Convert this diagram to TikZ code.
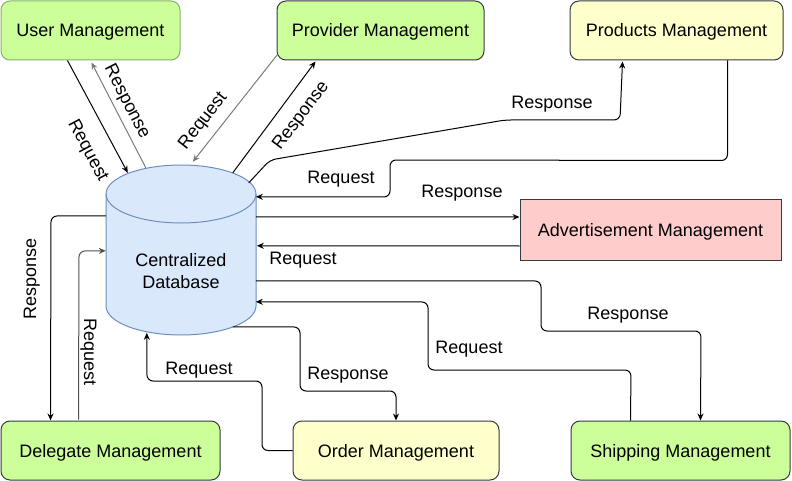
\documentclass[tikz,border=0pt]{standalone}
\usepackage{fontspec}
\setmainfont{Liberation Sans}
\usetikzlibrary{arrows.meta, positioning, calc}
\definecolor{greenFill}{HTML}{CCFF99}
\definecolor{greenLine}{HTML}{82B366}
\definecolor{yellowFill}{HTML}{FFFFCC}
\definecolor{pinkFill}{HTML}{FFCCCC}
\definecolor{boxLine}{HTML}{36393D}
\definecolor{dbFill}{HTML}{DAE8FC}
\definecolor{dbLine}{HTML}{6C8EBF}
\definecolor{softLine}{HTML}{7A7A7A}
\definecolor{midLine}{HTML}{505050}

\begin{document}
\begin{tikzpicture}[x=1pt, y=-1pt, font=\fontsize{18}{22}\selectfont,
  module/.style={draw=boxLine, line width=1pt, rounded corners=9pt, minimum height=59pt, inner sep=0pt, align=center, text height=17pt, text depth=4pt},
  link/.style={-{Stealth[length=7pt, width=6pt]}, line width=1pt, rounded corners=6pt},
  tag/.style={inner sep=0pt, text height=16pt, text depth=4pt}]
            \useasboundingbox (0,0) rectangle (792,481);

            % Management boxes
            \node[module, fill=greenFill, draw=greenLine, minimum width=179pt] (user) at (90.5,30.5) {User Management};
            \node[module, fill=greenFill, minimum width=207pt] (provider) at (380.5,30.5) {Provider Management};
            \node[module, fill=yellowFill, minimum width=213pt] (products) at (676.5,30.5) {Products Management};
            \node[module, fill=pinkFill, sharp corners, minimum width=261pt, minimum height=60pt] (adv) at (650.5,230) {Advertisement Management};
            \node[module, fill=greenFill, minimum width=219pt] (delegate) at (110.5,450.5) {Delegate Management};
            \node[module, fill=yellowFill, minimum width=206pt] (order) at (396,450.5) {Order Management};
            \node[module, fill=greenFill, minimum width=219pt] (shipping) at (680.5,450.5) {Shipping Management};

            % Database cylinder
            \filldraw[fill=dbFill, draw=dbLine, line width=1pt] (106,194) -- (106,306) arc[start angle=180, end angle=360, x radius=75pt, y radius=29pt] -- (256,194) arc[start angle=0, end angle=180, x radius=75pt, y radius=29pt] -- cycle;
            \draw[dbLine, line width=1pt] (106,194) arc[start angle=180, end angle=360, x radius=75pt, y radius=29pt];
            \node[minimum width=150pt, minimum height=170pt, inner sep=0pt] (db) at (181,250) {};
            \node[align=center, inner sep=0pt] (dbtext) at (181,271) {Centralized\\Database};

            % User Management
            \draw[link] ($(user.south west)+(67,0)$) -- ($(db.north west)+(22,8)$);
            \draw[link, softLine] ($(db.north west)+(40,3)$) -- ($(user.south west)+(91,2)$);
            \node[tag, rotate=-62] (userReq) at (89,150) {Request};
            \node[tag, rotate=-63] (userResp) at (128,101) {Response};

            % Provider Management
            \draw[link, softLine] ($(provider.south west)+(1,-6)$) -- ($(db.north west)+(87,-3)$);
            \draw[link] ($(db.north west)+(127,8)$) -- ($(provider.south west)+(39,1)$);
            \node[tag, rotate=52] (provReq) at (202,120) {Request};
            \node[tag, rotate=53] (provResp) at (300,115) {Response};

            % Products Management
            \draw[link] ($(db.north west)+(143,18)$) -- (270,160) -- (505,120) -- (620,120) -- ($(products.south west)+(53,1)$);
            \draw[link] ($(products.south west)+(158,0)$) -- ++(0,100) -- (390,160) -- (390,197) -- ($(db.north west)+(150,32)$);
            \node[tag] (prodResp) at (552,103) {Response};
            \node[tag] (prodReq) at (341,178) {Request};

            % Advertisement Management
            \draw[link] ($(db.north west)+(150,52)$) -- ($(adv.west)+(0,-13)$);
            \draw[link] ($(adv.west)+(0,16)$) -- ($(db.north west)+(151,81)$);
            \node[tag] (advResp) at (462,192) {Response};
            \node[tag] (advReq) at (303,258) {Request};

            % Shipping Management
            \draw[link] ($(db.north west)+(150,116)$) -- (541,281) -- (541,331) -- (701,331) -- ($(shipping.north west)+(130,0)$);
            \draw[link] ($(shipping.north west)+(60,0)$) -- (631,370) -- (428,370) -- (428,302) -- ($(db.north west)+(150,137)$);
            \node[tag] (shipResp) at (628,313) {Response};
            \node[tag] (shipReq) at (469,347) {Request};

            % Order Management
            \draw[link] ($(db.north west)+(127,162)$) -- (300,327) -- (300,391) -- (396,391) -- (order.north);
            \draw[link] (order.west) -- (262,450.5) -- (262,381) -- (147,381) -- ($(db.north west)+(41,168)$);
            \node[tag] (ordResp) at (348,373) {Response};
            \node[tag] (ordReq) at (199,368) {Request};

            % Delegate Management
            \draw[link] ($(db.north west)+(0,51)$) -- (51,216) -- ($(delegate.north west)+(50,0)$);
            \draw[link, midLine] ($(delegate.north west)+(78,-1)$) -- (79,251) -- ($(db.north west)+(0,86)$);
            \node[tag, rotate=90] (delResp) at (30,279) {Response};
            \node[tag, rotate=-90] (delReq) at (90,352) {Request};
        \end{tikzpicture}
\end{document}
